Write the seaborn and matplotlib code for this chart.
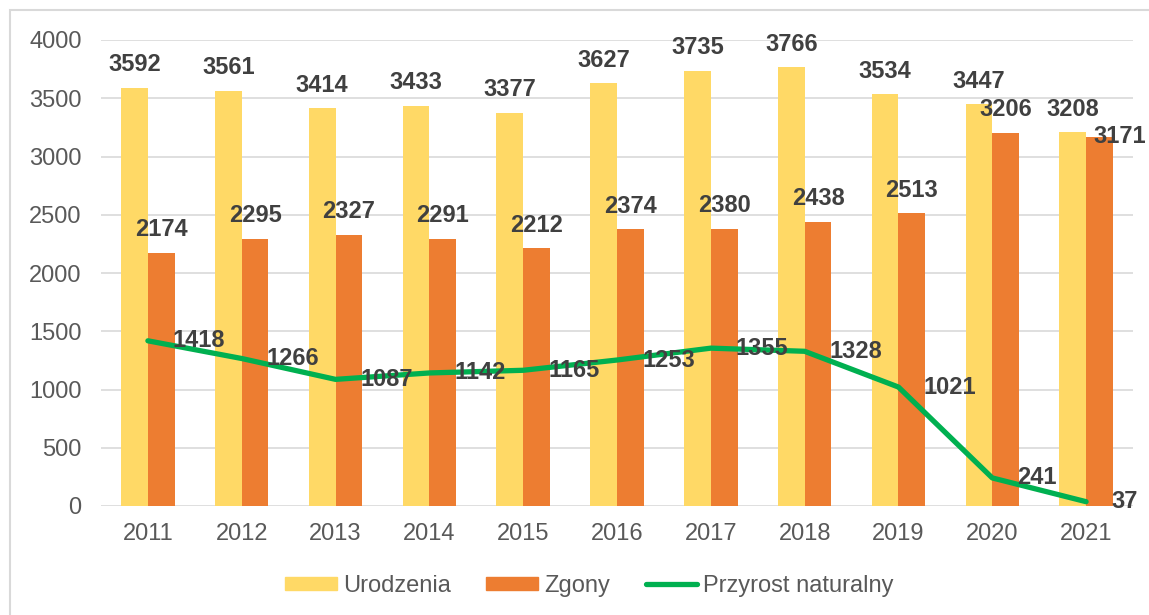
import matplotlib
matplotlib.use("Agg")
import matplotlib.pyplot as plt
import seaborn as sns
import pandas as pd
import numpy as np
from matplotlib.patches import Rectangle, Patch
from matplotlib.lines import Line2D

# dane
lata = ['2011', '2012', '2013', '2014', '2015', '2016', '2017', '2018', '2019', '2020', '2021']
urodzenia = [3592, 3561, 3414, 3433, 3377, 3627, 3735, 3766, 3534, 3447, 3208]
zgony = [2174, 2295, 2327, 2291, 2212, 2374, 2380, 2438, 2513, 3206, 3171]
przyrost = [1418, 1266, 1087, 1142, 1165, 1253, 1355, 1328, 1021, 241, 37]

c_ur = '#FFD966'
c_zg = '#ED7D31'
c_pn = '#00B050'
c_txt = '#404040'
c_tick = '#595959'
c_grid = '#D9D9D9'
fs = 17

df = pd.DataFrame({
    'rok': lata * 2,
    'liczba': urodzenia + zgony,
    'seria': ['Urodzenia'] * len(lata) + ['Zgony'] * len(lata),
})

sns.set_style('white')
plt.rcParams['font.family'] = ['Liberation Sans', 'DejaVu Sans']

fig = plt.figure(figsize=(11.49, 6.15), dpi=100)
ax = fig.add_axes([101 / 1149, 1 - 506 / 615, (1133 - 101) / 1149, (506 - 40) / 615])

sns.barplot(data=df, x='rok', y='liczba', hue='seria', palette=[c_ur, c_zg],
            width=0.57, gap=0, saturation=1, legend=False, ax=ax, zorder=2,
            linewidth=0, edgecolor='none')

xs = np.arange(len(lata))
sns.lineplot(x=xs, y=przyrost, color=c_pn, linewidth=3.8, ax=ax, zorder=3,
             solid_capstyle='round')

# etykiety słupków
for i, cont in enumerate(ax.containers):
    for j, bar in enumerate(cont):
        h = bar.get_height()
        cx = bar.get_x() + bar.get_width() / 2
        if i == 1 and j == len(lata) - 1:
            # ostatnia etykieta przesunięta w prawo (jak w oryginale)
            ax.annotate(f'{int(h)}', (cx, h), xytext=(-4, 0), textcoords='offset points',
                        ha='left', va='center', fontsize=fs, fontweight='bold',
                        color=c_txt, zorder=5, annotation_clip=False)
            continue
        ax.annotate(f'{int(h)}', (cx, h), xytext=(0, 12), textcoords='offset points',
                    ha='center', va='baseline', fontsize=fs, fontweight='bold',
                    color=c_txt, zorder=5)

# etykiety linii
for x, v in zip(xs, przyrost):
    ax.annotate(f'{v}', (x, v), xytext=(18, 0), textcoords='offset points',
                ha='left', va='center', fontsize=fs, fontweight='bold', color=c_txt,
                zorder=5, annotation_clip=False)

ax.set_ylim(0, 4000)
ax.set_xlim(-0.5, len(lata) - 0.5)
ax.set_yticks(range(0, 4001, 500))
ax.yaxis.grid(True, color=c_grid, linewidth=1.2)
ax.set_axisbelow(True)
for s in ax.spines.values():
    s.set_visible(False)
ax.tick_params(axis='x', length=0, pad=12, labelsize=fs, labelcolor=c_tick)
ax.tick_params(axis='y', length=0, pad=14, labelsize=fs, labelcolor=c_tick)
ax.set_xlabel('')
ax.set_ylabel('')

handles = [Patch(color=c_ur, label='Urodzenia'),
           Patch(color=c_zg, label='Zgony'),
           Line2D([0], [0], color=c_pn, linewidth=3.8, solid_capstyle='round',
                  label='Przyrost naturalny')]
fig.legend(handles=handles, loc='center left', bbox_to_anchor=(264 / 1149, 1 - 586 / 615),
           ncol=3, frameon=False, fontsize=fs, labelcolor=c_tick, handlelength=2.2,
           handleheight=0.5, handletextpad=0.25, columnspacing=1.5)

# ramka wykresu
fig.patches.append(Rectangle((10 / 1149, -0.1), 1.2, 1 - 10 / 615 + 0.1,
                             transform=fig.transFigure, fill=False,
                             edgecolor=c_grid, linewidth=1.5))

fig.savefig('out.png', dpi=100)
